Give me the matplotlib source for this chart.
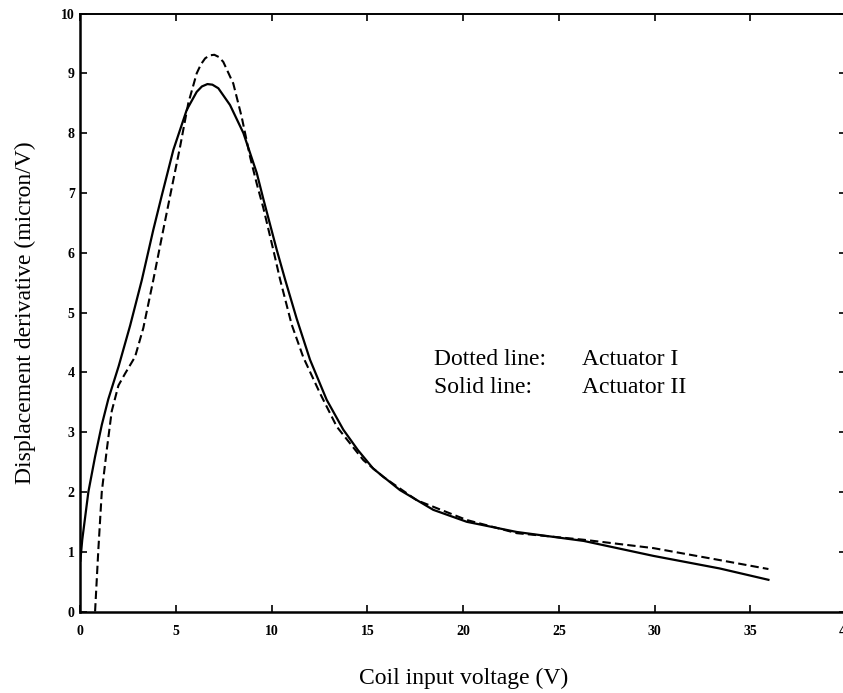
import matplotlib
matplotlib.use("Agg")
import matplotlib.pyplot as plt

# Actuator II (solid line)
solid_x = [0, 0.1, 0.42, 0.77, 1.12, 1.46, 2.0, 2.6, 3.21, 3.81, 4.25, 4.86, 5.56,
           6.08, 6.35, 6.64, 6.9, 7.21, 7.82, 8.52, 9.22, 9.56, 10.26, 10.7, 11.3,
           12.0, 12.87, 13.74, 14.5, 15.3, 16.7, 18.44, 20.19, 22.8, 26.3, 29.94,
           33.4, 35.95]
solid_y = [0.85, 1.2, 2.0, 2.59, 3.12, 3.55, 4.1, 4.78, 5.54, 6.38, 6.95, 7.72, 8.39,
           8.69, 8.78, 8.82, 8.81, 8.75, 8.47, 8.0, 7.33, 6.9, 6.05, 5.55, 4.9,
           4.21, 3.54, 3.04, 2.7, 2.39, 2.03, 1.70, 1.50, 1.33, 1.18, 0.93,
           0.72, 0.53]

# Actuator I (dashed line)
dash_x = [0.77, 0.94, 1.12, 1.38, 1.64, 1.99, 2.34, 2.86, 3.29, 3.81, 4.25, 4.69, 5.21,
          5.64, 6.08, 6.3, 6.52, 6.75, 7.0, 7.25, 7.47, 7.99, 8.43, 8.87, 9.22, 9.56,
          10.08, 10.43, 11.04, 11.65, 12.52, 13.4, 14.79, 15.83, 17.58, 20.19, 22.8,
          26.3, 29.94, 33.4, 35.95]
dash_y = [0.0, 1.03, 2.0, 2.7, 3.35, 3.78, 3.98, 4.26, 4.74, 5.54, 6.25, 6.95, 7.77,
          8.5, 9.0, 9.15, 9.25, 9.3, 9.31, 9.27, 9.19, 8.83, 8.27, 7.6, 7.15, 6.75,
          6.05, 5.56, 4.8, 4.25, 3.65, 3.09, 2.53, 2.25, 1.86, 1.53, 1.31,
          1.2, 1.06, 0.86, 0.71]

x_ticks = [0, 5, 10, 15, 20, 25, 30, 35, 40]
y_ticks = list(range(11))

serif = "Liberation Serif"

fig = plt.figure(figsize=(8.43, 6.93), dpi=100)
ax = fig.add_axes([0.0953, 0.1176, 0.9082, 0.8629])

ax.plot(solid_x, solid_y, color="black", lw=1.6)
ax.plot(dash_x, dash_y, color="black", lw=1.5, dashes=(4, 2))

ax.set_xlim(0, 40)
ax.set_ylim(0, 10)
ax.set_xticks(x_ticks)
ax.set_yticks(y_ticks)
ax.tick_params(direction="in", top=True, right=True, length=5, width=1.2,
               labelsize=10)
ax.tick_params(axis="x", pad=10)
ax.tick_params(axis="y", pad=4)
for lab in ax.get_xticklabels() + ax.get_yticklabels():
    lab.set_fontfamily(serif)
    lab.set_fontweight("bold")

ax.spines["left"].set_linewidth(1.8)
ax.spines["bottom"].set_linewidth(1.8)
ax.spines["top"].set_linewidth(1.4)

ax.set_xlabel("Coil input voltage (V)", fontfamily=serif, fontsize=17, labelpad=21)
ax.set_ylabel("Displacement derivative (micron/V)", fontfamily=serif, fontsize=17,
              labelpad=18)

ax.text(18.5, 4.12, "Dotted line:", fontfamily=serif, fontsize=17, va="baseline")
ax.text(26.2, 4.12, "Actuator I", fontfamily=serif, fontsize=17, va="baseline")
ax.text(18.5, 3.65, "Solid line:", fontfamily=serif, fontsize=17, va="baseline")
ax.text(26.2, 3.65, "Actuator II", fontfamily=serif, fontsize=17, va="baseline")

fig.savefig("out.png", dpi=100)
